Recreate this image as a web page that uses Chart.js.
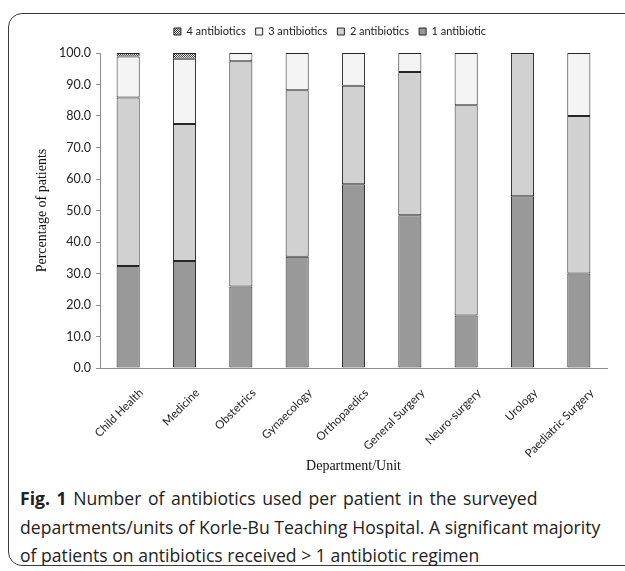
<!DOCTYPE html>
<html>
<head>
<meta charset="utf-8">
<script src="https://cdn.jsdelivr.net/npm/chart.js@4.4.1/dist/chart.umd.min.js"></script>
<style>
    html, body { margin: 0; padding: 0; background: #fff; overflow: hidden; }
    body { width: 625px; height: 571px; position: relative; }
    #frame {
        position: absolute; left: 8px; top: 13px; width: 660px; height: 551px;
        border: 1.5px solid #3a3a3a; border-radius: 14px;
    }
    #wrap { position: absolute; left: 0; top: 0; width: 625px; height: 480px; }
    #caption {
        position: absolute; left: 20px; top: 484px; width: 600px;
        font-family: "Open Sans", sans-serif; font-size: 17.6px; line-height: 28.5px; color: #222;
        white-space: nowrap;
    }
    #caption b { font-weight: 700; }
    #caption .l1 { word-spacing: 2px; }
</style>
</head>
<body>
<div id="frame"></div>
<div id="wrap"><canvas id="chart" width="625" height="480"></canvas></div>
<div id="caption"><span class="l1"><b>Fig. 1</b> Number of antibiotics used per patient in the surveyed</span><br>departments/units of Korle-Bu Teaching Hospital. A significant majority<br>of patients on antibiotics received &gt; 1 antibiotic regimen</div>
<script>
const departments = ['Child Health', 'Medicine', 'Obstetrics', 'Gynaecology', 'Orthopaedics',
    'General Surgery', 'Neuro-surgery', 'Urology', 'Paediatric Surgery'];
const oneAb = [32.4, 34.0, 25.9, 35.3, 58.3, 48.5, 16.7, 54.5, 30.0];
const twoAb = [53.5, 43.5, 71.5, 52.9, 31.3, 45.5, 66.7, 45.5, 50.0];
const threeAb = [13.0, 20.7, 2.6, 11.8, 10.4, 6.0, 16.6, 0, 20.0];
const fourAb = [1.1, 1.8, 0, 0, 0, 0, 0, 0, 0];
const yTicks = [0, 10, 20, 30, 40, 50, 60, 70, 80, 90, 100];

// little checker pattern for the "4 antibiotics" segment
const pc = document.createElement('canvas');
pc.width = 2; pc.height = 2;
const pctx = pc.getContext('2d');
pctx.fillStyle = '#e8e8e8'; pctx.fillRect(0, 0, 2, 2);
pctx.fillStyle = '#444'; pctx.fillRect(0, 0, 1, 1); pctx.fillRect(1, 1, 1, 1);
const checker = pctx.createPattern(pc, 'repeat');

const labelFont = { family: 'Lato, sans-serif', size: 11.5 };

// legend: shift it and give it a bit more room below
const legendTweak = {
    id: 'legendTweak',
    beforeInit(chart) {
        const lg = chart.legend;
        const fit = lg.fit;
        lg.fit = function () { fit.call(this); this.height += 6; };
    },
    afterLayout(chart) {
        chart.legend.left = 35;
        chart.legend.right = 625;
    }
};

const ctx = document.getElementById('chart');

new Chart(ctx, {
    type: 'bar',
    data: {
        labels: departments,
        datasets: [
            { label: '1 antibiotic', data: oneAb, backgroundColor: '#999999' },
            { label: '2 antibiotics', data: twoAb, backgroundColor: '#d0d1d0' },
            { label: '3 antibiotics', data: threeAb, backgroundColor: '#f4f4f4' },
            { label: '4 antibiotics', data: fourAb, backgroundColor: checker }
        ].map(d => Object.assign(d, {
            borderColor: '#262626',
            borderWidth: 1,
            borderSkipped: false,
            barPercentage: 0.41,
            categoryPercentage: 1
        }))
    },
    options: {
        responsive: false,
        animation: false,
        layout: { padding: { top: 16, right: 18, left: 0, bottom: 0 } },
        plugins: {
            legend: {
                position: 'top',
                reverse: true,
                labels: {
                    boxWidth: 7,
                    boxHeight: 7,
                    padding: 10,
                    color: '#222',
                    font: { family: 'Lato, sans-serif', size: 11 }
                }
            },
            tooltip: { enabled: false }
        },
        scales: {
            x: {
                stacked: true,
                grid: { display: false },
                border: { color: '#8c8c8c', width: 1 },
                ticks: {
                    autoSkip: false,
                    minRotation: 45,
                    maxRotation: 45,
                    labelOffset: 13,
                    padding: 10,
                    color: '#222',
                    font: labelFont
                },
                title: {
                    display: true,
                    text: 'Department/Unit',
                    color: '#111',
                    font: { family: '"Liberation Serif", serif', size: 14 },
                    padding: { top: 0, bottom: 5 }
                },
                afterFit(scale) { scale.height = 112; }
            },
            y: {
                stacked: true,
                min: 0,
                max: 100,
                afterBuildTicks(scale) { scale.ticks = yTicks.map(v => ({ value: v })); },
                grid: { drawOnChartArea: false, tickLength: 4, color: '#8c8c8c' },
                border: { color: '#8c8c8c', width: 1 },
                ticks: {
                    padding: 5,
                    color: '#222',
                    font: { family: 'Lato, sans-serif', size: 12.5 },
                    callback: v => v.toFixed(1)
                },
                title: {
                    display: true,
                    text: 'Percentage of patients',
                    color: '#111',
                    font: { family: '"Liberation Serif", serif', size: 14 },
                    padding: { top: 34, bottom: 0 }
                },
                afterFit(scale) { scale.width = 100; }
            }
        }
    },
    plugins: [legendTweak]
});
</script>
</body>
</html>
